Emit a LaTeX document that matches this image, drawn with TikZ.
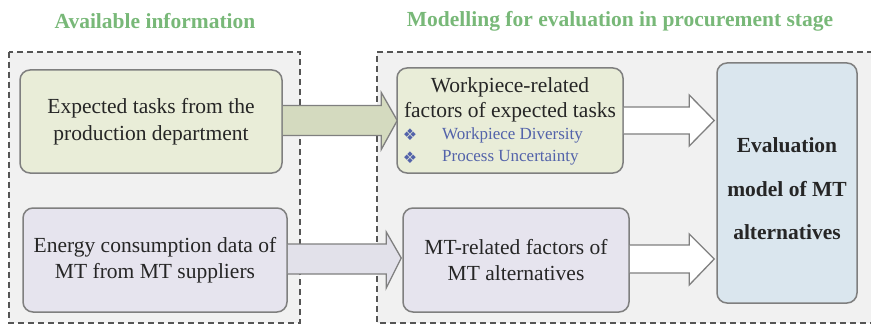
\documentclass[tikz,border=0pt]{standalone}
\usepackage{fontspec}
\setmainfont{Liberation Serif}
\newfontfamily\symfont{DejaVu Sans}
\usetikzlibrary{calc}
\definecolor{areafill}{HTML}{F1F1F1}
\definecolor{areadash}{HTML}{555555}
\definecolor{greenbox}{HTML}{E9EDD8}
\definecolor{lavbox}{HTML}{E6E4EE}
\definecolor{bluebox}{HTML}{DAE6EE}
\definecolor{greenarrow}{HTML}{D4DABF}
\definecolor{lavarrow}{HTML}{E2E1EA}
\definecolor{boxline}{HTML}{7F7F7F}
\definecolor{titlegreen}{HTML}{78B878}
\definecolor{itemblue}{HTML}{5363AA}
\definecolor{txt}{HTML}{262626}
\tikzset{
  area/.style={draw=areadash, line width=1.2pt, dash pattern=on 6pt off 4pt},
  roundbox/.style={draw=boxline, line width=1.5pt, rounded corners=10pt, inner sep=0pt},
  maintext/.style={text=txt, align=center, font=\fontsize{21.5}{26.5}\selectfont},
  titletext/.style={text=titlegreen, font=\fontsize{21.5}{26}\selectfont\bfseries},
  itemtext/.style={text=itemblue, font=\fontsize{17}{20}\selectfont, inner sep=0pt},
  bulletsym/.style={text=itemblue, font=\fontsize{16}{18}\symfont, inner sep=0pt},
  blockarrow/.style={draw=boxline, line width=1.3pt, line join=miter},
}
\begin{document}
\begin{tikzpicture}[x=1pt,y=-1pt]
\useasboundingbox (0,0) rectangle (871,329);
% areas
\fill[areafill] (9,52) rectangle (300,323);
\draw[area] (9,52) rectangle (300,323);
\fill[areafill] (377,52) rectangle (871,323);
\draw[area] (873,52) -- (377,52) -- (377,323) -- (873,323);
% titles
\node[titletext] (t1) at (155,21) {Available information};
\node[titletext] (t2) at (620,21) {Modelling for evaluation in procurement stage};
% boxes
\node[roundbox, fill=greenbox, minimum width=262pt, minimum height=103pt] (b1) at (151,121.5) {};
\node[maintext] (b1t) at (b1) {Expected tasks from the\\production department};
\node[roundbox, fill=lavbox, minimum width=264pt, minimum height=104pt] (b2) at (155,260) {};
\node[maintext] (b2t) at (b2) {Energy consumption data of\\MT from MT suppliers};
\node[roundbox, fill=greenbox, minimum width=226pt, minimum height=105pt] (b3) at (510,120.5) {};
\node[maintext, font=\fontsize{21.5}{25}\selectfont] (b3t) at (510,99.5) {Workpiece-related\\factors of expected tasks};
\node[bulletsym] (bu1) at (410,135) {❖};
\node[bulletsym] (bu2) at (410,158) {❖};
\node[itemtext, anchor=west] (i1) at (442,135) {Workpiece Diversity};
\node[itemtext, anchor=west] (i2) at (442,158) {Process Uncertainty};
\node[roundbox, fill=lavbox, minimum width=226pt, minimum height=104pt] (b4) at (516,260) {};
\node[maintext] (b4t) at (b4) {MT-related factors of\\MT alternatives};
\node[roundbox, fill=bluebox, minimum width=140pt, minimum height=240pt] (b5) at (787,183) {};
\node[maintext, font=\fontsize{21.5}{43.5}\selectfont\bfseries] (b5t) at (787,189) {Evaluation\\model of MT\\alternatives};
% block arrows
\draw[blockarrow, fill=greenarrow] let \p1=(b1.east), \p2=(b3.west) in
  (\x1,\y2+15pt) -- (\x2-15pt,\y2+15pt) -- (\x2-15pt,\y2+28pt) -- (\x2+1pt,\y2) --
  (\x2-15pt,\y2-29pt) -- (\x2-15pt,\y2-15pt) -- (\x1,\y2-15pt);
\draw[blockarrow, fill=lavarrow] let \p1=(b2.east), \p2=(b4.west) in
  (\x1,\y2+16pt) -- (\x2-16pt,\y2+16pt) -- (\x2-16pt,\y2+28pt) -- (\x2-1pt,\y2+2pt) --
  (\x2-16pt,\y2-28pt) -- (\x2-16pt,\y2-14pt) -- (\x1,\y2-14pt);
\draw[blockarrow, fill=white] let \p1=(b3.east), \p2=(b5.west) in
  (\x1,\y1+13.5pt) -- (\x2-27pt,\y1+13.5pt) -- (\x2-27pt,\y1+25.5pt) -- (\x2-2pt,\y1) --
  (\x2-27pt,\y1-25.5pt) -- (\x2-27pt,\y1-13.5pt) -- (\x1,\y1-13.5pt);
\draw[blockarrow, fill=white] let \p1=(b4.east), \p2=(b5.west) in
  (\x1,\y1+15pt) -- (\x2-27pt,\y1+15pt) -- (\x2-27pt,\y1+26pt) -- (\x2-2pt,\y1+1pt) --
  (\x2-27pt,\y1-25pt) -- (\x2-27pt,\y1-13pt) -- (\x1,\y1-13pt);
\end{tikzpicture}
\end{document}
